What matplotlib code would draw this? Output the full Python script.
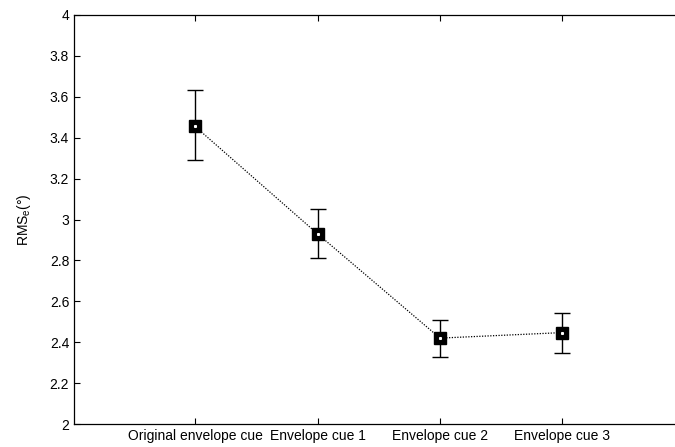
import numpy as np
import matplotlib.pyplot as plt

plt.rcParams["font.family"] = ["Liberation Sans", "DejaVu Sans"]

conditions = ["Original envelope cue", "Envelope cue 1", "Envelope cue 2", "Envelope cue 3"]
rms_mean = [3.455, 2.93, 2.42, 2.447]
err_upper = [3.632, 3.05, 2.51, 2.543]
err_lower = [3.29, 2.81, 2.33, 2.347]

x = np.arange(1, len(conditions) + 1)
mean = np.asarray(rms_mean)
yerr = np.vstack([mean - np.asarray(err_lower), np.asarray(err_upper) - mean])

fig = plt.figure(figsize=(6.75, 4.47), dpi=100)
ax = fig.add_axes([74 / 675, 1 - 424 / 447, 1.02 - 74 / 675, (424 - 15) / 447])

ax.plot(x, mean, color="k", ls=(0, (1, 1.2)), lw=0.9, zorder=1)
ax.errorbar(x, mean, yerr=yerr, fmt="none", ecolor="k", elinewidth=1.0,
            capsize=6, capthick=1.0, zorder=2)
ax.plot(x, mean, ls="none", marker="s", ms=8, mfc="k", mec="k", zorder=3)
ax.plot(x, mean, ls="none", marker="s", ms=1.2, mfc="w", mec="w", zorder=4)

ax.set_xlim(0.011, 5.03)
ax.set_ylim(2, 4)
ax.set_xticks(x)
ax.set_xticklabels(conditions)
yt = np.round(np.arange(2, 4.01, 0.2), 1)
ax.set_yticks(yt)
ax.set_yticklabels([f"{v:g}" for v in yt])
ax.tick_params(direction="in", length=4, width=0.8, labelsize=10, top=True, right=True)
ax.set_ylabel("RMS$_\\mathregular{e}$(°)", fontsize=10, labelpad=12)
for s in ax.spines.values():
    s.set_linewidth(0.9)

fig.savefig("out.png", dpi=100)
